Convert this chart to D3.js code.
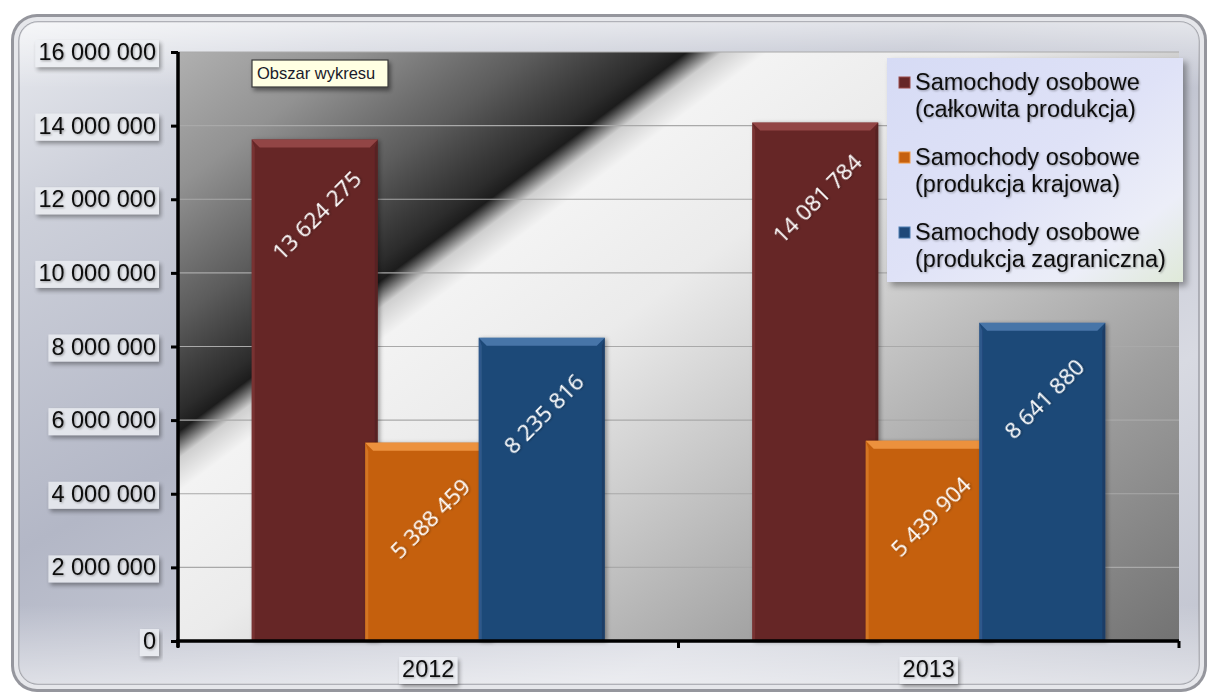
<!DOCTYPE html>
<html>
<head>
<meta charset="utf-8">
<script src="https://cdn.jsdelivr.net/npm/d3@7"></script>
<style>
html,body{margin:0;padding:0;background:#fff;}
svg{display:block;}
</style>
</head>
<body>
<svg id="chart" width="1210" height="695"></svg>
<script>
// ---- data ----
const years = ["2012", "2013"];
const seriesNames = [
  ["Samochody osobowe", "(całkowita produkcja)"],
  ["Samochody osobowe", "(produkcja krajowa)"],
  ["Samochody osobowe", "(produkcja zagraniczna)"]
];
const totalProduction = [13624275, 14081784];
const domesticProduction = [5388459, 5439904];
const foreignProduction = [8235816, 8641880];
const yTickValues = [0, 2000000, 4000000, 6000000, 8000000, 10000000, 12000000, 14000000, 16000000];
const plotAreaTooltip = "Obszar wykresu";

const seriesValues = [totalProduction, domesticProduction, foreignProduction];
const seriesColors = ["#662627", "#c5600f", "#1f4878"];
const bevelColors = ["#9a4a4a", "#f29a45", "#4d7cb0"];

// ---- layout ----
const plot = {left: 178, right: 1179, top: 52, bottom: 641};
const svg = d3.select("#chart");
const defs = svg.append("defs");

const fmt = d3.formatLocale({thousands: "\u00a0", grouping: [3], decimal: ",", currency: ["", ""]}).format(",d");

// gradients
const frameGrad = defs.append("linearGradient").attr("id", "frameGrad")
  .attr("x1", "0").attr("y1", "0").attr("x2", "1").attr("y2", "1");
[[0, "#e8eaef"], [0.15, "#cdd0da"], [0.4, "#b3b7c6"], [0.55, "#c3c6d2"], [0.75, "#d8dae2"], [1, "#bfc2ce"]]
  .forEach(s => frameGrad.append("stop").attr("offset", s[0]).attr("stop-color", s[1]));

const frameGrad2 = defs.append("linearGradient").attr("id", "frameGrad2")
  .attr("x1", "0").attr("y1", "0").attr("x2", "0").attr("y2", "1");
[[0, "#ffffff", 0.6], [0.1, "#ffffff", 0.0], [0.88, "#ffffff", 0.0], [1, "#ffffff", 0.5]]
  .forEach(s => frameGrad2.append("stop").attr("offset", s[0]).attr("stop-color", s[1]).attr("stop-opacity", s[2]));

const dirx = 0.598, diry = 0.801, len = 1069;
const plotGrad = defs.append("linearGradient").attr("id", "plotGrad")
  .attr("gradientUnits", "userSpaceOnUse")
  .attr("x1", plot.left).attr("y1", plot.top)
  .attr("x2", plot.left + dirx * len).attr("y2", plot.top + diry * len);
[[0, "#b0b0b0"], [0.1, "#929292"], [0.2, "#5c5c5c"], [0.27, "#2c2c2c"], [0.285, "#1c1c1c"],
 [0.305, "#cfcfcf"], [0.33, "#f3f3f3"], [0.45, "#ebebeb"], [0.6, "#c8c8c8"], [0.78, "#9e9e9e"], [1, "#737373"]]
  .forEach(s => plotGrad.append("stop").attr("offset", s[0]).attr("stop-color", s[1]));

const legendGrad = defs.append("linearGradient").attr("id", "legendGrad")
  .attr("x1", "0").attr("y1", "0").attr("x2", "1").attr("y2", "1");
[[0, "#d6dbf5"], [0.5, "#dfe2f7"], [0.8, "#eceef8"], [1, "#dfe9d8"]]
  .forEach(s => legendGrad.append("stop").attr("offset", s[0]).attr("stop-color", s[1]));

function shadow(id, dx, dy, sd, op) {
  const f = defs.append("filter").attr("id", id)
    .attr("x", "-20%").attr("y", "-20%").attr("width", "140%").attr("height", "160%");
  f.append("feDropShadow").attr("dx", dx).attr("dy", dy).attr("stdDeviation", sd)
    .attr("flood-color", "#000").attr("flood-opacity", op);
}
shadow("shBar", 2, 1, 2, 0.35);
shadow("shBox", 2, 3, 2, 0.45);
shadow("shLegend", 4, 4, 3, 0.35);
shadow("shText", 1, 1, 0.8, 0.35);

// ---- outer frame ----
svg.append("rect").attr("x", 11).attr("y", 14).attr("width", 1196).attr("height", 678)
  .attr("rx", 26).attr("fill", "#95969d");
svg.append("rect").attr("x", 14).attr("y", 17).attr("width", 1190).attr("height", 672)
  .attr("rx", 23).attr("fill", "#e6e7eb");
svg.append("rect").attr("x", 19).attr("y", 22).attr("width", 1180).attr("height", 662)
  .attr("rx", 19).attr("fill", "url(#frameGrad)").attr("stroke", "#9ea0a8").attr("stroke-width", 1.5);
svg.append("rect").attr("x", 19).attr("y", 22).attr("width", 1180).attr("height", 662)
  .attr("rx", 19).attr("fill", "url(#frameGrad2)");

// ---- scales ----
const y = d3.scaleLinear().domain([0, 16000000]).range([plot.bottom, plot.top]);
const x0 = d3.scaleBand().domain(years).range([plot.left, plot.right]).paddingInner(0).paddingOuter(0);
const barW = x0.bandwidth() * 0.252;
const barStep = barW * 0.9;
const groupW = barStep * (seriesValues.length - 1) + barW;
const xs = d3.scaleLinear().domain([0, seriesValues.length - 1]).range([0, barStep * (seriesValues.length - 1)]);
function barX(cat, si) { return x0(cat) + x0.bandwidth() / 2 - groupW / 2 + xs(si); }

// ---- plot area ----
svg.append("rect").attr("x", plot.left).attr("y", plot.top)
  .attr("width", plot.right - plot.left).attr("height", plot.bottom - plot.top)
  .attr("fill", "url(#plotGrad)");

// gridlines
svg.append("g").selectAll("line").data(yTickValues.filter(v => v > 0)).join("line")
  .attr("x1", plot.left).attr("x2", plot.right)
  .attr("y1", d => y(d)).attr("y2", d => y(d))
  .attr("stroke", "#a9a9a9").attr("stroke-width", 1.2);

// tooltip box
const tip = svg.append("g").attr("transform", "translate(252,60)");
tip.append("rect").attr("width", 136).attr("height", 27).attr("fill", "#ffffe3")
  .attr("stroke", "#3a3a3a").attr("stroke-width", 1.2).attr("filter", "url(#shBox)");
tip.append("text").attr("x", 5).attr("y", 19).attr("font-family", "Liberation Sans, Arial, sans-serif")
  .attr("font-size", 16.5).attr("fill", "#1a1a2a").text(plotAreaTooltip);

// bars
const barsG = svg.append("g");
seriesValues.forEach((vals, si) => {
  const g = barsG.append("g");
  const items = years.map((yr, i) => ({yr, v: vals[i]}));
  const bar = g.selectAll("g").data(items).join("g").attr("filter", "url(#shBar)");
  bar.append("rect")
    .attr("x", d => barX(d.yr, si)).attr("y", d => y(d.v))
    .attr("width", barW).attr("height", d => y(0) - y(d.v))
    .attr("fill", seriesColors[si]);
  const b = 8;
  bar.append("polygon")
    .attr("points", d => {
      const x = barX(d.yr, si), t = y(d.v);
      return [[x, t], [x + barW, t], [x + barW - b, t + b], [x + b, t + b]].map(p => p.join(",")).join(" ");
    })
    .attr("fill", bevelColors[si]).attr("opacity", 0.85);
  bar.append("polygon")
    .attr("points", d => {
      const x = barX(d.yr, si), t = y(d.v);
      return [[x, t], [x + 3, t + b], [x + 3, y(0)], [x, y(0)]].map(p => p.join(",")).join(" ");
    })
    .attr("fill", bevelColors[si]).attr("opacity", 0.35);
  bar.append("polygon")
    .attr("points", d => {
      const x = barX(d.yr, si) + barW, t = y(d.v);
      return [[x, t], [x - 3, t + b], [x - 3, y(0)], [x, y(0)]].map(p => p.join(",")).join(" ");
    })
    .attr("fill", "#000").attr("opacity", 0.15);
});

// data labels
seriesValues.forEach((vals, si) => {
  svg.append("g").selectAll("text").data(years.map((yr, i) => ({yr, v: vals[i]}))).join("text")
    .attr("transform", d => `translate(${barX(d.yr, si) + barW / 2 + 2},${y(d.v) + 76}) rotate(-45)`)
    .attr("text-anchor", "middle").attr("dy", "0.35em")
    .attr("font-family", "Open Sans, sans-serif").attr("font-size", 22.5)
    .attr("fill", "#ffffff").attr("filter", "url(#shText)")
    .text(d => fmt(d.v));
});

// ---- axes ----
const fontFam = "Liberation Sans, Arial, sans-serif";
const yAxis = svg.append("g").attr("transform", `translate(${plot.left},0)`)
  .call(d3.axisLeft(y).tickValues(yTickValues).tickSize(7).tickPadding(14).tickFormat(d => fmt(d)));
yAxis.select(".domain").attr("stroke", "#000").attr("stroke-width", 3.5).attr("d", `M0,${plot.top}V${plot.bottom + 6}`);
yAxis.selectAll(".tick line").attr("stroke", "#000").attr("stroke-width", 3);
yAxis.selectAll(".tick text").attr("font-family", fontFam).attr("font-size", 23.5).attr("fill", "#111")
  .attr("x", -22).attr("filter", "url(#shText)");
yAxis.selectAll(".tick").each(function () {
  const t = d3.select(this).select("text");
  const bb = t.node().getBBox();
  d3.select(this).insert("rect", "text")
    .attr("x", bb.x - 3).attr("y", bb.y + 1).attr("width", bb.width + 6).attr("height", bb.height + 1)
    .attr("fill", "#eef0f4").attr("opacity", 0.8).attr("filter", "url(#shBox)");
});

const xAxis = svg.append("g").attr("transform", `translate(0,${plot.bottom})`);
xAxis.append("line").attr("x1", plot.left - 2).attr("x2", plot.right).attr("y1", 0).attr("y2", 0)
  .attr("stroke", "#000").attr("stroke-width", 3.5);
xAxis.selectAll(".bt").data(years.map(yr => x0(yr)).concat([plot.right])).join("line")
  .attr("x1", d => d).attr("x2", d => d).attr("y1", 0).attr("y2", 7)
  .attr("stroke", "#000").attr("stroke-width", 3);
const cat = xAxis.selectAll(".cat").data(years).join("g")
  .attr("transform", d => `translate(${x0(d) + x0.bandwidth() / 2},36)`);
cat.append("text").attr("text-anchor", "middle").attr("font-family", fontFam)
  .attr("font-size", 23.5).attr("fill", "#111").attr("filter", "url(#shText)").text(d => d);
cat.each(function () {
  const t = d3.select(this).select("text");
  const bb = t.node().getBBox();
  d3.select(this).insert("rect", "text")
    .attr("x", bb.x - 3).attr("y", bb.y + 1).attr("width", bb.width + 6).attr("height", bb.height + 1)
    .attr("fill", "#eef0f4").attr("opacity", 0.8).attr("filter", "url(#shBox)");
});

// ---- legend ----
const lg = svg.append("g").attr("transform", "translate(887,58)");
lg.append("rect").attr("width", 296).attr("height", 224).attr("fill", "url(#legendGrad)")
  .attr("filter", "url(#shLegend)");
const li = lg.selectAll(".li").data(seriesNames).join("g")
  .attr("transform", (d, i) => `translate(0,${i * 75})`);
li.append("rect").attr("x", 12).attr("y", 19).attr("width", 11).attr("height", 11)
  .attr("fill", (d, i) => seriesColors[i]).attr("stroke", (d, i) => bevelColors[i]).attr("stroke-width", 1);
li.append("text").attr("font-family", fontFam).attr("font-size", 23.5).attr("fill", "#111")
  .attr("filter", "url(#shText)")
  .selectAll("tspan").data(d => d).join("tspan")
  .attr("x", 28).attr("y", (d, j) => 32 + j * 27).text(d => d);
</script>
</body>
</html>
